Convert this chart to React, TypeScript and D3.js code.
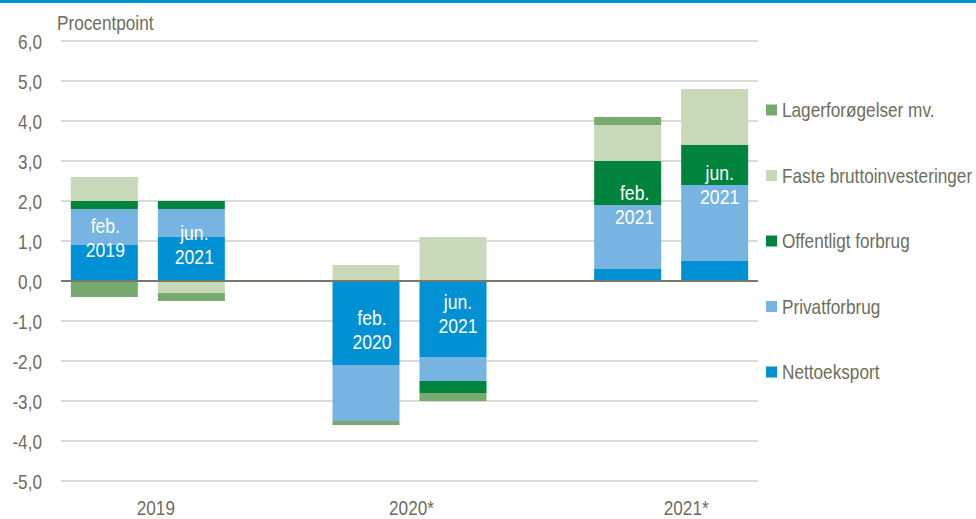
import React from 'react';
import * as d3 from 'd3';

const categories = ['2019', '2020*', '2021*'];
const vintages = ['feb', 'jun'];
const barLabels: string[][] = [
  ['feb.', '2019'], ['jun.', '2021'],
  ['feb.', '2020'], ['jun.', '2021'],
  ['feb.', '2021'], ['jun.', '2021'],
];
const seriesNames = ['Nettoeksport', 'Privatforbrug', 'Offentligt forbrug', 'Faste bruttoinvesteringer', 'Lagerforøgelser mv.'];
const nettoeksport = [0.9, 1.1, -2.1, -1.9, 0.3, 0.5];
const privatforbrug = [0.9, 0.7, -1.4, -0.6, 1.6, 1.9];
const offentligtForbrug = [0.2, 0.2, 0, -0.3, 1.1, 1.0];
const fasteBrutto = [0.6, -0.3, 0.4, 1.1, 0.9, 1.4];
const lager = [-0.4, -0.2, -0.1, -0.2, 0.2, 0];
const labelAnchor = [1.09, 0.91, -1.22, -0.83, 1.9, 2.41];
const yTicks = [-5, -4, -3, -2, -1, 0, 1, 2, 3, 4, 5, 6];
const colors = ['#0090d4', '#78b4e2', '#00843d', '#c7d9b9', '#78a96f'];

const labelDx = [1, 3, 6, 5, 7, 5];
const catLabelDx = [8, 2, 15];
const textColor = '#6d6d5c';
const font = '"Liberation Sans", Arial, sans-serif';
const SX = 0.86;

function T(props: { x: number; y: number; anchor?: string; size?: number; fill?: string; children: any }) {
  const { x, y, anchor = 'start', size = 20, fill = textColor, children } = props;
  return (
    <text transform={`translate(${x},${y}) scale(${SX},1)`} textAnchor={anchor} fontSize={size} fill={fill} dy="0.35em">
      {children}
    </text>
  );
}

export default function App() {
  const W = 976, H = 519;
  const y = d3.scaleLinear().domain([-5, 6]).range([481, 41]);
  const x0 = d3.scaleBand<string>().domain(categories).range([17, 802]);
  const bw0 = x0.bandwidth();
  const x1 = d3.scaleBand<string>().domain(vintages).range([(bw0 - 154) / 2, (bw0 + 154) / 2]).paddingInner(0.23);
  const series = [nettoeksport, privatforbrug, offentligtForbrug, fasteBrutto, lager];
  const rows = nettoeksport.map((_, i) => {
    const r: any = { idx: i, cat: categories[Math.floor(i / 2)], vin: vintages[i % 2] };
    seriesNames.forEach((n, k) => { r[n] = series[k][i]; });
    return r;
  });
  const stacked = d3.stack<any>().keys(seriesNames).offset(d3.stackOffsetDiverging)(rows);
  const gridX0 = 61, gridX1 = 758;
  const fmt = (v: number) => v.toFixed(1).replace('.', ',');
  const legendOrder = [4, 3, 2, 1, 0];

  return (
    <svg width={W} height={H} style={{ position: 'absolute', left: 0, top: 0, background: '#fff' }} fontFamily={font}>
      <rect x={0} y={0} width={W} height={3} fill="#0093d3" />
      {yTicks.map(t => (
        <g key={t}>
          {t !== 0 && <line x1={gridX0} x2={gridX1} y1={y(t)} y2={y(t)} stroke="#cfcfc4" strokeWidth={1.5} />}
          <T x={42} y={y(t) + 1} anchor="end">{fmt(t)}</T>
        </g>
      ))}
      <T x={57} y={22.5}>Procentpoint</T>
      {stacked.map((s, k) => (
        <g key={s.key} fill={colors[k]}>
          {s.map((d, i) => {
            const r = rows[i];
            const h = Math.abs(y(d[0]) - y(d[1]));
            if (h < 0.01) return null;
            return (
              <rect key={i} x={(x0(r.cat) as number) + (x1(r.vin) as number)} width={x1.bandwidth()}
                y={Math.min(y(d[0]), y(d[1]))} height={h} />
            );
          })}
        </g>
      ))}
      <line x1={gridX0} x2={gridX1} y1={y(0)} y2={y(0)} stroke="#77776a" strokeWidth={2} />
      {rows.map((r, i) => {
        const cx = (x0(r.cat) as number) + (x1(r.vin) as number) + x1.bandwidth() / 2 + labelDx[i];
        const cy = y(labelAnchor[i]);
        return (
          <g key={i}>
            <T x={cx} y={cy - 12} anchor="middle" size={20.5} fill="#fff">{barLabels[i][0]}</T>
            <T x={cx} y={cy + 12} anchor="middle" size={20.5} fill="#fff">{barLabels[i][1]}</T>
          </g>
        );
      })}
      {categories.map((c, i) => (
        <T key={c} x={(x0(c) as number) + bw0 / 2 + catLabelDx[i]} y={508} anchor="middle">{c}</T>
      ))}
      {legendOrder.map((k, j) => {
        const ly = 110 + j * 65.5;
        return (
          <g key={k}>
            <rect x={766} y={ly - 5.5} width={11} height={11} fill={colors[k]} />
            <T x={782} y={ly}>{seriesNames[k]}</T>
          </g>
        );
      })}
    </svg>
  );
}
